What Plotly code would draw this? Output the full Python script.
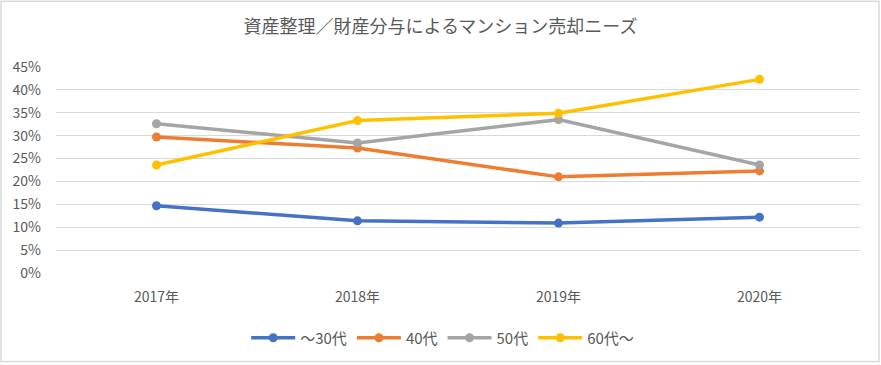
import plotly.graph_objects as go

categories = ["2017年", "2018年", "2019年", "2020年"]
series_names = ["～30代", "40代", "50代", "60代～"]
s30 = [0.147, 0.114, 0.109, 0.122]
s40 = [0.297, 0.273, 0.210, 0.223]
s50 = [0.326, 0.284, 0.335, 0.236]
s60 = [0.236, 0.333, 0.349, 0.423]
colors = ["#4472C4", "#ED7D31", "#A5A5A5", "#FFC000"]
y_ticks = [0, 0.05, 0.10, 0.15, 0.20, 0.25, 0.30, 0.35, 0.40, 0.45]

FONT = "Noto Sans CJK JP"
fig = go.Figure()
for name, vals, c in zip(series_names, [s30, s40, s50, s60], colors):
    fig.add_trace(go.Scatter(
        x=list(range(len(categories))), y=vals, name=name, mode="lines+markers",
        line=dict(color=c, width=3.5), marker=dict(color=c, size=9),
    ))

W, H = 881, 365
L, R, T, B = 56, 21, 67, 91
pw, ph = W - L - R, H - T - B

fig.update_layout(
    width=W, height=H,
    margin=dict(l=L, r=R, t=T, b=B),
    paper_bgcolor="white", plot_bgcolor="white",
    font=dict(family=FONT, color="#595959", size=13),
    title=dict(text="資産整理／財産分与によるマンション売却ニーズ", x=0.5, xanchor="center",
               y=1 - 27 / H, yanchor="middle", font=dict(size=18, color="#595959", family=FONT)),
    xaxis=dict(tickmode="array", tickvals=list(range(len(categories))), ticktext=categories,
               range=[-0.5, 3.5], showgrid=False, zeroline=False, showline=False,
               ticks="", ticklabelstandoff=14, tickfont=dict(size=14, color="#595959")),
    yaxis=dict(range=[0, 0.45], tickvals=y_ticks, tickformat=".0%", showgrid=True,
               gridcolor="#D9D9D9", gridwidth=1, zeroline=False, showline=False, ticks="",
               ticklabelstandoff=14, tickfont=dict(size=14, color="#595959")),
    legend=dict(orientation="h", x=0.481, xanchor="center", y=(274 - 338) / ph, yanchor="middle",
                font=dict(size=15, color="#595959"), itemwidth=44, bgcolor="rgba(0,0,0,0)"),
    shapes=[dict(type="rect", xref="paper", yref="paper",
                 x0=(1 - L) / pw, x1=(879 - L) / pw, y0=(274 - 363) / ph, y1=(274 - 1) / ph,
                 line=dict(color="#D9D9D9", width=1.5), layer="below")],
)
fig.write_html("out.html", post_script="document.body.style.margin='0';",
               config={"displayModeBar": False})
